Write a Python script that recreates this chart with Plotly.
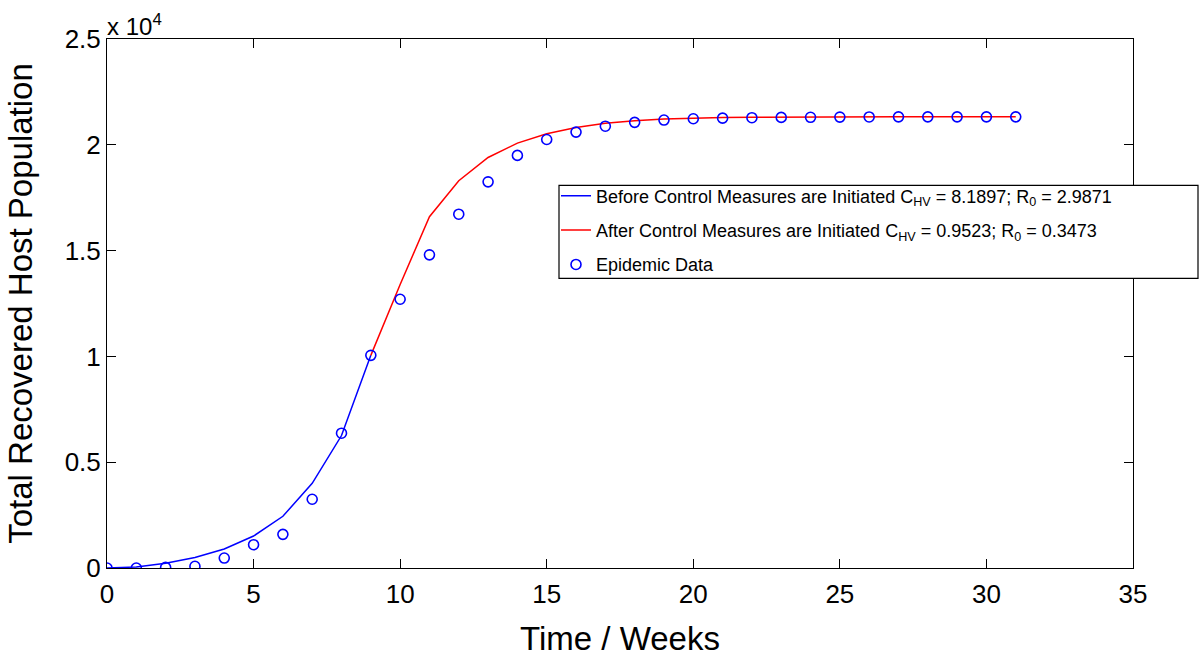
import plotly.graph_objects as go

# Time in weeks
t_before = [0, 1, 2, 3, 4, 5, 6, 7, 8, 9]
y_before = [0, 50, 220, 500, 900, 1510, 2445, 4000, 6260, 10050]

t_after = [9, 10, 11, 12, 13, 14, 15, 16, 17, 18, 19, 20, 21, 22, 23, 24, 25, 26, 27, 28, 29, 30, 31]
y_after = [10050, 13400, 16600, 18300, 19400, 20080, 20520, 20820, 21020, 21140, 21220, 21260,
           21290, 21300, 21310, 21315, 21320, 21320, 21320, 21320, 21320, 21320, 21320]

t_data = list(range(0, 32))
y_data = [0, 0, 30, 80, 470, 1100, 1590, 3250, 6370, 10050, 12700, 14800, 16720, 18250, 19500,
          20250, 20600, 20880, 21060, 21170, 21230, 21260, 21280, 21295, 21300, 21310, 21315,
          21320, 21320, 21320, 21320, 21320]

x_ticks = [0, 5, 10, 15, 20, 25, 30, 35]
y_ticks = [0, 5000, 10000, 15000, 20000, 25000]
y_tick_text = ["0", "0.5", "1", "1.5", "2", "2.5"]

FONT = "Liberation Sans, Arial, Helvetica, sans-serif"

fig = go.Figure()
fig.add_trace(go.Scatter(
    x=t_before, y=y_before, mode="lines",
    line=dict(color="#0000ff", width=1.5),
    name="Before Control Measures are Initiated C<sub>HV</sub> = 8.1897; R<sub>0</sub> = 2.9871",
    legendgroup="a"))
fig.add_trace(go.Scatter(
    x=t_after, y=y_after, mode="lines",
    line=dict(color="#ff0000", width=1.5),
    name="After Control Measures are Initiated C<sub>HV</sub> = 0.9523; R<sub>0</sub> = 0.3473",
    legendgroup="b"))
fig.add_trace(go.Scatter(
    x=t_data, y=y_data, mode="markers",
    marker=dict(symbol="circle-open", size=10, color="#0000ff", line=dict(width=1.6, color="#0000ff")),
    name="Epidemic Data", legendgroup="c"))

axis_common = dict(
    showline=True, linecolor="black", linewidth=1, mirror="ticks",
    ticks="inside", ticklen=9, tickcolor="black", tickwidth=1,
    showgrid=False, zeroline=False,
    tickfont=dict(family=FONT, size=26, color="black"),
)

PW = 1026.0
PH = 535.0

fig.update_layout(
    width=1200, height=662,
    margin=dict(l=107, r=67, t=39, b=88),
    paper_bgcolor="white", plot_bgcolor="white",
    font=dict(family=FONT, color="black"),
    xaxis=dict(range=[0, 35], tickvals=x_ticks, ticklabelstandoff=3,
               title=dict(text="Time / Weeks", font=dict(family=FONT, size=33), standoff=18),
               **axis_common),
    yaxis=dict(range=[0, 25000], tickvals=y_ticks, ticktext=y_tick_text,
               title=dict(text="Total Recovered Host Population", font=dict(family=FONT, size=33), standoff=22),
               **axis_common),
    legend=dict(x=(556 - 107) / PW, y=(574 - 179) / PH, xanchor="left", yanchor="top",
                bgcolor="rgba(255,255,255,0)", borderwidth=0,
                font=dict(family=FONT, size=18, color="black"),
                tracegroupgap=8, itemwidth=30),
    showlegend=True,
    shapes=[dict(type="rect", xref="paper", yref="paper",
                 x0=(559 - 107) / PW, x1=(1198 - 107) / PW,
                 y0=(574 - 281) / PH, y1=(574 - 187) / PH,
                 line=dict(color="black", width=1.2), fillcolor="white", layer="above")],
    annotations=[dict(text="x 10<sup>4</sup>", xref="paper", yref="paper", x=0, y=1,
                      xanchor="left", yanchor="bottom", showarrow=False,
                      font=dict(family=FONT, size=24, color="black"), xshift=-2, yshift=-3)],
)

fig.write_html("out.html", config={"displayModeBar": False},
               post_script="document.body.style.margin='0';document.body.style.padding='0';")
